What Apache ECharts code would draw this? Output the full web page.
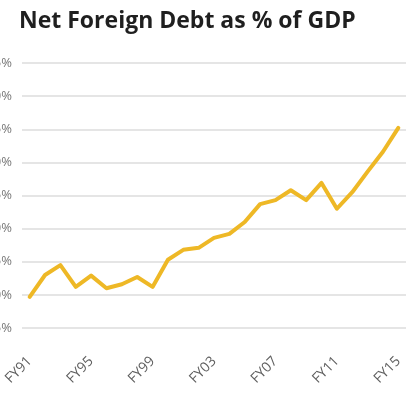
<!DOCTYPE html>
<html>
<head>
<meta charset="utf-8">
<script src="https://cdn.jsdelivr.net/npm/echarts@6/dist/echarts.min.js"></script>
<style>
  html, body { margin: 0; padding: 0; background: #ffffff; }
  #chart { width: 414px; height: 399px; }
</style>
</head>
<body>
<div id="chart"></div>
<script>
// Fiscal years FY91 .. FY15
const years = ['FY91','FY92','FY93','FY94','FY95','FY96','FY97','FY98','FY99','FY00',
               'FY01','FY02','FY03','FY04','FY05','FY06','FY07','FY08','FY09','FY10',
               'FY11','FY12','FY13','FY14','FY15'];

// Net foreign debt, % of GDP
const netForeignDebt = [29.7, 33.0, 34.5, 31.2, 32.9, 31.0, 31.6, 32.7, 31.2, 35.3,
                        36.8, 37.1, 38.6, 39.2, 41.0, 43.7, 44.3, 45.8, 44.3, 46.9,
                        43.0, 45.5, 48.6, 51.6, 55.2];

// Value axis range
const yMin = 25;
const yMax = 65;
const yStep = 5;

const chart = echarts.init(document.getElementById('chart'), null, { renderer: 'canvas' });

chart.setOption({
  animation: false,
  backgroundColor: '#ffffff',
  title: {
    text: 'Net Foreign Debt as % of GDP',
    left: 14,
    top: 5,
    textStyle: {
      fontFamily: 'Open Sans',
      fontWeight: 'bold',
      fontSize: 23,
      color: '#1f1f1f'
    }
  },
  grid: { left: 22, right: 8, top: 63, bottom: 71, containLabel: false, outerBoundsMode: 'none' },
  xAxis: {
    type: 'category',
    data: years,
    boundaryGap: true,
    axisLine: { show: false },
    axisTick: { show: false },
    axisLabel: {
      interval: 3,
      rotate: 45,
      margin: 31,
      color: '#5f5f5f',
      fontFamily: 'Open Sans',
      fontSize: 14
    }
  },
  yAxis: {
    type: 'value',
    min: yMin,
    max: yMax,
    interval: yStep,
    axisLine: { show: false },
    axisTick: { show: false },
    axisLabel: {
      formatter: '{value}%',
      margin: 10,
      color: '#777777',
      fontFamily: 'Open Sans',
      fontSize: 13
    },
    splitLine: { lineStyle: { color: '#dcdcdc', width: 1.5 } }
  },
  series: [{
    type: 'line',
    data: netForeignDebt,
    symbol: 'none',
    smooth: false,
    lineStyle: { color: '#eeb826', width: 4, join: 'round', cap: 'round' }
  }]
});
</script>
</body>
</html>
